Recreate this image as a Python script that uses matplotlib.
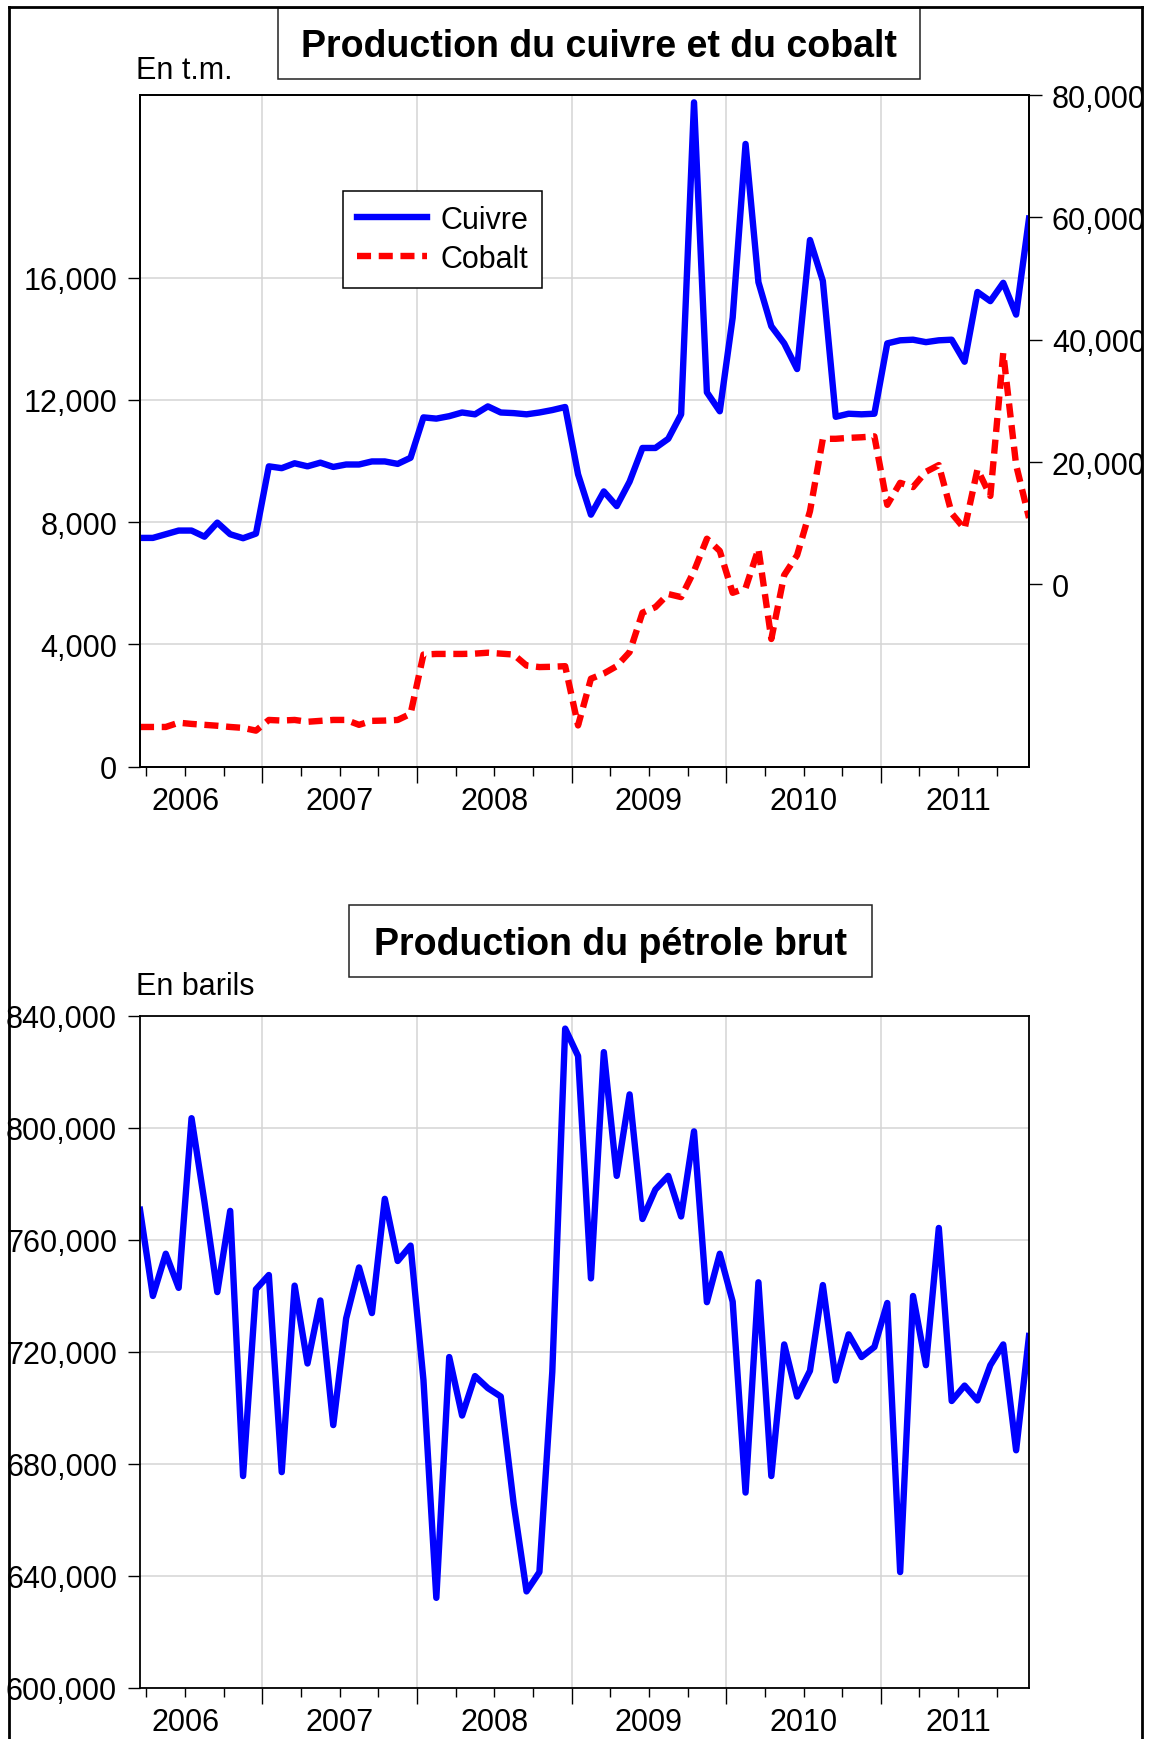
import numpy as np
import matplotlib.pyplot as plt
from matplotlib.patches import Rectangle
from matplotlib.lines import Line2D

plt.rcParams['font.family'] = ['Liberation Sans', 'DejaVu Sans']

# monthly data, 2006M03 .. 2011M12
start_year, start_month = 2006, 3
years = [2006, 2007, 2008, 2009, 2010, 2011]

# copper (right scale), t.m.
cuivre = [7600, 7600, 8200, 8800, 8800, 7800, 10100, 8200, 7550, 8300,
          19300, 19000, 19800, 19300, 19900, 19200, 19600, 19600, 20100, 20100,
          19700, 20700, 27300, 27100, 27500, 28100, 27800, 29100, 28100, 28000,
          27800, 28100, 28500, 29000, 18000, 11400, 15200, 12800, 16800, 22300,
          22300, 23800, 27800, 78800, 31400, 28300, 43600, 72000, 49400, 42200,
          39400, 35200, 56300, 49600, 27400, 27900, 27800, 27900, 39400, 39900,
          40000, 39600, 39900, 40000, 36400, 47800, 46300, 49300, 44100, 59800]

# cobalt (left scale), t.m.
cobalt = [1300, 1300, 1300, 1440, 1400, 1370, 1340, 1300, 1270, 1180,
          1530, 1510, 1530, 1470, 1500, 1530, 1530, 1370, 1500, 1510,
          1530, 1730, 3670, 3690, 3690, 3690, 3700, 3730, 3700, 3670,
          3310, 3260, 3270, 3290, 1350, 2880, 3050, 3290, 3750, 5040,
          5220, 5650, 5550, 6400, 7460, 7060, 5690, 5840, 7130, 4180,
          6270, 6920, 8360, 10730, 10730, 10760, 10780, 10810, 8570, 9290,
          9150, 9650, 9870, 8290, 7780, 9730, 8860, 13540, 9870, 8140]

# crude oil, barils
petrole = [770800, 740000, 755100, 742900, 803500, 773700, 741400, 770400, 675700, 742400,
           747500, 677100, 743700, 715900, 738400, 693900, 732000, 750200, 733900, 774700,
           752500, 758000, 710000, 632200, 718200, 697300, 711400, 707100, 704100, 665900,
           634500, 641400, 712900, 835500, 825700, 746300, 827100, 782900, 812000, 767500,
           778000, 782900, 768400, 798800, 737800, 755100, 738000, 669800, 744900, 675700,
           722700, 704100, 713300, 743900, 709800, 726300, 718200, 721800, 737500, 641400,
           740000, 715300, 764300, 702500, 708000, 702700, 715300, 722700, 684900, 725700]

n = len(cuivre)
x = np.arange(n)

W, H = 1153, 1740
fig = plt.figure(figsize=(W / 100, H / 100), dpi=100)
fig.patch.set_facecolor('white')


def fx(px):
    return px / W


def fy(py):
    return 1 - py / H


FS = 22
GRID = '#d4d4d4'
LW = 4.6


def style_x(ax):
    ax.set_xlim(0, n - 1)
    off = start_month - 1
    year_b = [12 * (y - start_year) - off - 0.5 for y in years[1:]]
    mids = [12 * (y - start_year) - off - 0.5 + 6 for y in years]
    quarters = [q for q in np.arange(0.5, n - 1, 3) if q not in year_b]
    labels = [str(years[mids.index(q)]) if q in mids else '' for q in quarters]
    ax.set_xticks(year_b)
    ax.set_xticklabels([])
    ax.set_xticks(quarters, labels, minor=True)
    ax.tick_params(axis='x', which='major', length=11.3, width=1.0, direction='out')
    ax.tick_params(axis='x', which='minor', length=6.5, width=1.0, direction='out',
                   pad=7.5, labelsize=FS)
    ax.xaxis.grid(True, which='major', color=GRID, lw=1.1)


def fmt_thousands(ax_axis, ticks):
    ax_axis.set_ticks(ticks)
    ax_axis.set_ticklabels(['{:,.0f}'.format(t) for t in ticks])


# ---------- top chart: copper and cobalt ----------
ax1 = fig.add_axes([fx(140), fy(767.7), fx(1029) - fx(140), (767.7 - 96) / H])
l_co, = ax1.plot(x, cobalt, color='red', lw=LW, dashes=(2.2, 1.2), label='Cobalt')
ax1.set_ylim(0, 21980)
fmt_thousands(ax1.yaxis, [0, 4000, 8000, 12000, 16000])
ax1.yaxis.grid(True, color=GRID, lw=1.1)
ax1.set_axisbelow(True)
style_x(ax1)
ax1.tick_params(axis='y', length=9, width=1.0, pad=7.5, labelsize=FS)

ax2 = ax1.twinx()
l_cu, = ax2.plot(x, cuivre, color='blue', lw=LW, label='Cuivre')
ax2.set_ylim(-29800, 80000)
fmt_thousands(ax2.yaxis, [0, 20000, 40000, 60000, 80000])
ax2.tick_params(axis='y', length=9.5, width=1.0, pad=7, labelsize=FS)

for a in (ax1, ax2):
    for s in a.spines.values():
        s.set_linewidth(1.3)

leg = ax2.legend([l_cu, l_co], ['Cuivre', 'Cobalt'], loc='upper left',
                 bbox_to_anchor=(fx(343), fy(192)), bbox_transform=fig.transFigure,
                 borderaxespad=0, fancybox=False, edgecolor='black', framealpha=1,
                 fontsize=FS, handlelength=2.3, handletextpad=0.45, borderpad=0.45,
                 labelspacing=0.3)
leg.get_frame().set_linewidth(1.1)

# ---------- bottom chart: crude oil ----------
ax3 = fig.add_axes([fx(140), fy(1689), fx(1029) - fx(140), (1689 - 1017) / H])
ax3.plot(x, petrole, color='blue', lw=LW)
ax3.set_ylim(600000, 840000)
fmt_thousands(ax3.yaxis, list(range(600000, 840001, 40000)))
ax3.yaxis.grid(True, color=GRID, lw=1.1)
ax3.set_axisbelow(True)
style_x(ax3)
ax3.tick_params(axis='y', length=9, width=1.0, pad=7.5, labelsize=FS)
for s in ax3.spines.values():
    s.set_linewidth(1.3)

# titles in boxes
for (x0, y0, x1, y1, title, base) in [
        (278, 9, 920, 80, 'Production du cuivre et du cobalt', 57),
        (349, 906, 872, 978, 'Production du pétrole brut', 955)]:
    fig.patches.append(Rectangle((fx(x0), fy(y1)), fx(x1) - fx(x0), (y1 - y0) / H,
                                 transform=fig.transFigure, fill=False,
                                 edgecolor='#222222', lw=1.1))
    fig.text(fx((x0 + x1) / 2), fy(base), title, ha='center', va='baseline',
             fontsize=27, fontweight='bold')

fig.text(fx(136), fy(79), 'En t.m.', ha='left', va='baseline', fontsize=FS)
fig.text(fx(136), fy(995), 'En barils', ha='left', va='baseline', fontsize=FS)

# outer frame (labels past the right edge are hidden)
fig.patches.append(Rectangle((fx(1142), 0), 1 - fx(1142), 1, transform=fig.transFigure,
                             facecolor='white', edgecolor='none', zorder=5))
for xs, ys in [([8.5, 8.5], [H, 7.5]), ([8.5, 1141.5], [7.5, 7.5]),
               ([1141.5, 1141.5], [7.5, H])]:
    fig.lines.append(Line2D([fx(v) for v in xs], [fy(v) for v in ys],
                            transform=fig.transFigure, color='black', lw=2.0, zorder=6))

fig.savefig('out.png', dpi=100)
